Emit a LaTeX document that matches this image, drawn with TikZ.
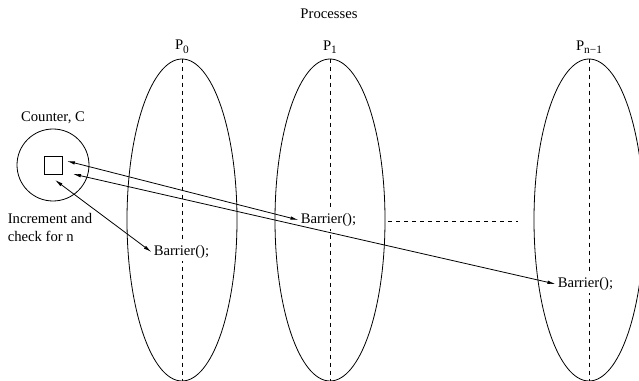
\documentclass[tikz,border=0pt]{standalone}
\usepackage{fontspec}
\setmainfont{Liberation Serif}
\usetikzlibrary{positioning, arrows.meta, shapes.geometric}
\newcommand{\procsub}[1]{\raisebox{-0.55ex}{\fontsize{8.5}{8.5}\selectfont #1}}

\begin{document}
\begin{tikzpicture}[x=0.75pt, y=-0.75pt, line width=0.6pt, every node/.style={font=\fontsize{11}{13.5}\selectfont}]

        % Styles
        \tikzstyle{process} = [draw, ellipse, minimum width=110*0.75pt, minimum height=322*0.75pt, inner sep=0pt]
        \tikzstyle{barrier} = [fill=white, inner sep=1.5pt]
        \tikzstyle{link} = [{Latex[length=6pt,width=2.6pt]}-{Latex[length=6pt,width=2.6pt]}]

        \useasboundingbox (0,0) rectangle (639,381);

        % Processes
        \node at (329,14) {Processes};
        \node[process] (p0) at (182,220) {};
        \node[process] (p1) at (330,220) {};
        \node[process] (p2) at (589,220) {};
        \node[above=0pt of p0.north] {P\procsub{0}};
        \node[above=0pt of p1.north] {P\procsub{1}};
        \node[above=0pt of p2.north] {P\procsub{n−1}};

        \draw[dashed] (p0.north) -- (p0.south);
        \draw[dashed] (p1.north) -- (p1.south);
        \draw[dashed] (p2.north) -- (p2.south);

        % Counter
        \node[draw, circle, minimum size=72*0.75pt, inner sep=0pt] (ctr) at (53,165) {};
        \node[draw, minimum size=18*0.75pt, inner sep=0pt] (cnt) at (53,165) {};
        \node[above=0pt of ctr] {Counter, C};
        \node[align=left] (inc) at (50,227) {Increment and\\check for n};

        % Barrier calls
        \node[barrier] (b0) at (181.5,252) {Barrier();};
        \node[barrier] (b1) at (328.5,220) {Barrier();};
        \node[barrier] (b2) at (585.5,284) {Barrier();};

        \coordinate (c0) at (55,180);
        \coordinate (c1) at (67,161);
        \coordinate (c2) at (73,174);
        \coordinate (d1) at (388,221);
        \coordinate (d2) at (518,221);

        % Arrows
        \draw[link] (c0) -- (b0.west);
        \draw[link] (c1) -- (b1.west);
        \draw[link] (c2) -- (b2.west);
        \draw[dashed] (d1) -- (d2);

    \end{tikzpicture}
\end{document}
